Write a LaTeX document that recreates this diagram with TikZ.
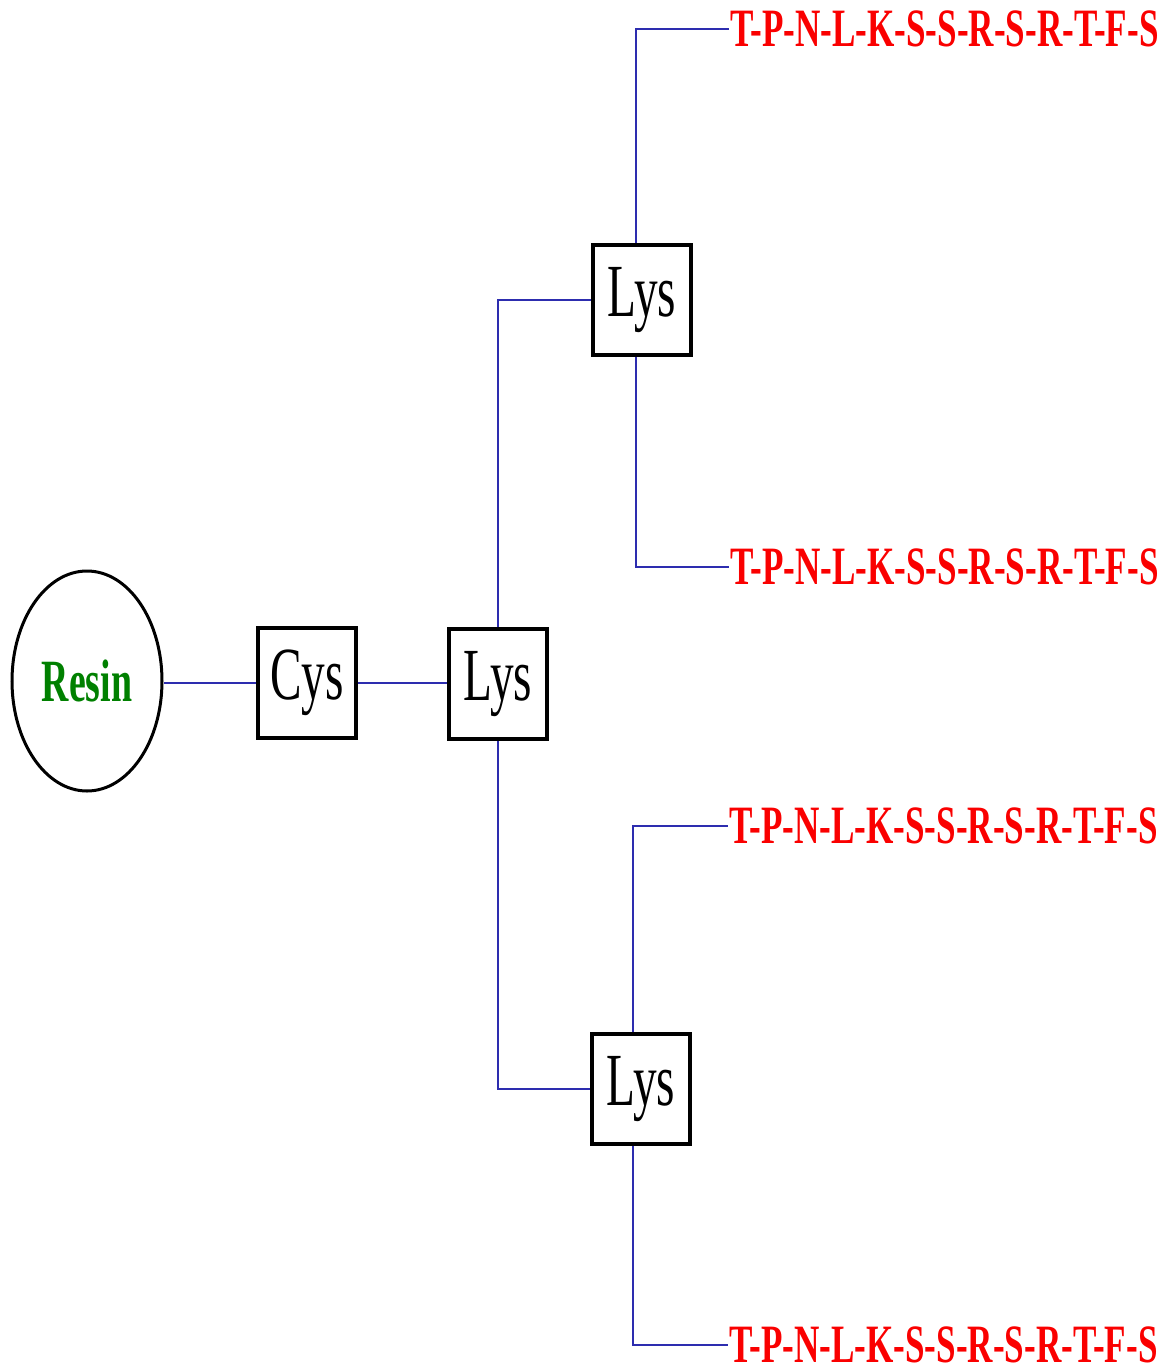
\documentclass[tikz,border=0pt]{standalone}
\usepackage{fontspec}
\usetikzlibrary{shapes.geometric}
\newfontfamily\sqfont[FakeStretch=0.63]{Liberation Serif}
\newfontfamily\seqfont[FakeStretch=0.65]{Liberation Serif}
\definecolor{linkblue}{RGB}{45,45,175}
\definecolor{seqred}{RGB}{250,0,0}
\definecolor{resingreen}{RGB}{0,128,0}
\begin{document}
\begin{tikzpicture}[x=1pt,y=-1pt,
  aabox/.style={draw=black,line width=3.5pt,minimum width=98pt,minimum height=110pt,inner sep=0pt,
    font=\sqfont\fontsize{75}{80}\selectfont},
  resinnode/.style={ellipse,draw=black,line width=3pt,minimum width=150pt,minimum height=220pt,inner sep=0pt,
    text=resingreen,font=\sqfont\bfseries\fontsize{60}{66}\selectfont},
  seq/.style={anchor=west,inner sep=1pt,text=seqred,font=\seqfont\bfseries\fontsize{54}{60}\selectfont},
  link/.style={draw=linkblue,line width=2pt}]
\useasboundingbox (0,0) rectangle (1164,1372);
\node[resinnode] (resin) at (87,681) {Resin};
\node[aabox] (cys) at (307,683) {Cys};
\node[aabox] (lys1) at (498,684) {Lys};
\node[aabox] (lysT) at (642,300) {Lys};
\node[aabox] (lysB) at (641,1089) {Lys};
\node[seq] (s1) at (729,29) {T-P-N-L-K-S-S-R-S-R-T-F-S};
\node[seq] (s2) at (729,567) {T-P-N-L-K-S-S-R-S-R-T-F-S};
\node[seq] (s3) at (728,826) {T-P-N-L-K-S-S-R-S-R-T-F-S};
\node[seq] (s4) at (728,1345) {T-P-N-L-K-S-S-R-S-R-T-F-S};
\draw[link] (cys.west) -- (cys.west -| resin.east);
\draw[link] (cys.east) -- (cys.east -| lys1.west);
\draw[link] (lys1.north) |- (lysT.west);
\draw[link] (lys1.south) |- (lysB.west);
\draw[link] ([xshift=-6pt]lysT.north) |- (s1.west);
\draw[link] ([xshift=-6pt]lysT.south) |- (s2.west);
\draw[link] ([xshift=-8pt]lysB.north) |- (s3.west);
\draw[link] ([xshift=-8pt]lysB.south) |- (s4.west);
\end{tikzpicture}
\end{document}
